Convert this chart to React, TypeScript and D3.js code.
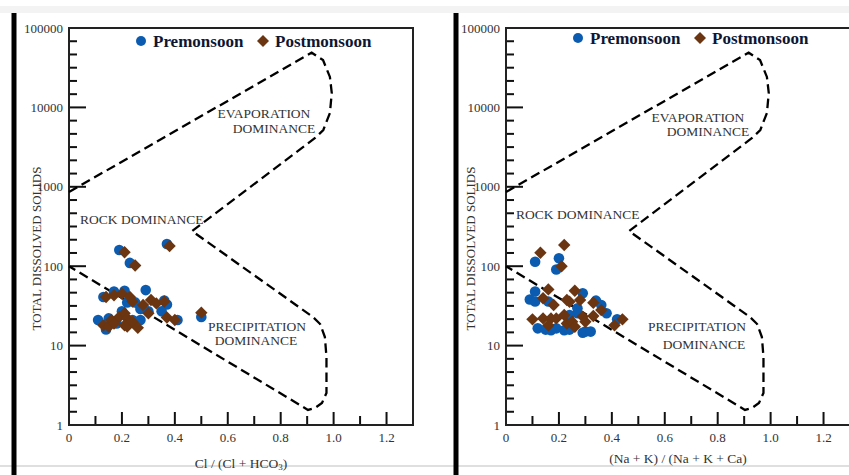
import React from "react";
import * as d3 from "d3";

// ---------- data ----------
// Left panel: Cl / (Cl + HCO3) vs TDS
const preX1 = [0.19, 0.37, 0.23, 0.29, 0.50, 0.13, 0.17, 0.21, 0.22, 0.36, 0.37, 0.30, 0.35, 0.41, 0.11, 0.14, 0.20, 0.24, 0.27, 0.27, 0.18, 0.15, 0.25];
const preY1 = [160, 190, 110, 50, 23, 41, 48, 49, 35, 37, 33, 27, 27, 21, 21, 16, 27, 21, 21, 29, 19, 22, 35];
const postX1 = [0.38, 0.21, 0.25, 0.50, 0.14, 0.17, 0.20, 0.23, 0.24, 0.28, 0.31, 0.33, 0.36, 0.30, 0.37, 0.40, 0.13, 0.15, 0.16, 0.19, 0.21, 0.22, 0.21, 0.22, 0.24, 0.26, 0.17];
const postY1 = [180, 150, 102, 26, 41, 43, 45, 41, 36, 32.5, 37.5, 34, 36, 25.5, 22.6, 21, 18, 17.4, 21, 23, 25.5, 22, 18, 17.4, 20, 16.8, 19];

// Right panel: (Na + K) / (Na + K + Ca) vs TDS
const preX2 = [0.11, 0.20, 0.19, 0.11, 0.09, 0.11, 0.16, 0.12, 0.15, 0.17, 0.19, 0.22, 0.24, 0.29, 0.30, 0.32, 0.29, 0.34, 0.36, 0.38, 0.42, 0.27, 0.27, 0.24];
const preY2 = [114, 126, 91, 48, 38, 36, 36, 16.5, 15.9, 15.6, 16.5, 15.6, 15.9, 14.5, 15, 15, 45.6, 36.8, 32.5, 25.5, 21.4, 29.5, 25.5, 24.3];
const postX2 = [0.22, 0.13, 0.21, 0.16, 0.14, 0.18, 0.26, 0.24, 0.28, 0.33, 0.36, 0.41, 0.44, 0.10, 0.14, 0.17, 0.16, 0.19, 0.22, 0.23, 0.25, 0.26, 0.29, 0.30, 0.33, 0.23];
const postY2 = [185, 148, 100, 51, 39.5, 32.5, 49, 35.7, 37.5, 34.7, 28, 18, 21.4, 21.4, 22, 22, 18, 22, 24.3, 19, 20, 17.3, 23.2, 20, 23.6, 37.5];

// Gibbs boundary (data coordinates: ratio, TDS)
const boundX = [0, 0.917, 0.96, 0.986, 0.993, 0.986, 0.961, 0.93, 0.465, 0.922, 0.949, 0.967, 0.973, 0.973, 0.956, 0.93, 0.903, 0];
const boundY = [859, 48900, 39500, 24200, 15200, 8490, 5190, 4120, 277, 22.9, 18.7, 12.8, 7.18, 2.53, 1.89, 1.64, 1.55, 100];

const xTickValues = [0, 0.2, 0.4, 0.6, 0.8, 1.0, 1.2];
const yTickValues = [1, 10, 100, 1000, 10000, 100000];
const seriesNames = ["Premonsoon", "Postmonsoon"];

const BLUE = "#0b5cb0";
const BROWN = "#6a3510";
const FONT = "'Liberation Serif', 'Times New Roman', serif";

const TOP = 28;
const BOTTOM = 425;
const PW = 344;

const diamond = (cx: number, cy: number, r: number) =>
  `M${cx},${cy - r}L${cx + r},${cy}L${cx},${cy + r}L${cx - r},${cy}Z`;

type PanelProps = {
  L: number;
  bar: number;
  yLabelX: number;
  legendY: number;
  preX: number[];
  preY: number[];
  postX: number[];
  postY: number[];
  title: React.ReactNode;
  titleY: number;
  labels: { t: string; x: number; y: number; anchor: string }[];
};

function Panel(p: PanelProps) {
  const x = d3.scaleLinear().domain([0, 1.3]).range([p.L, p.L + PW]);
  const y = d3.scaleLog().domain([1, 100000]).range([BOTTOM, TOP]);
  const line = d3
    .line<number>()
    .x((_, i) => x(boundX[i]))
    .y((_, i) => y(boundY[i]));

  const minorY: number[] = [];
  for (let k = 0; k < 5; k++) for (let j = 1; j < 6; j++) minorY.push(Math.pow(10, k + j / 6));
  const xTicks = d3.range(1, 13).map((i) => i / 10);

  return (
    <g>
      <rect x={p.bar - 2.5} y={13} width={5} height={462} fill="#000" />
      {/* y axis title */}
      <text
        transform={`translate(${p.yLabelX},${(TOP + BOTTOM) / 2 + 22}) rotate(-90)`}
        textAnchor="middle"
        dominantBaseline="central"
        fontFamily={FONT}
        fontSize={13}
        fill="#333"
      >
        TOTAL DISSOLVED SOLIDS
      </text>
      {/* ticks */}
      {yTickValues.map((v) => (
        <g key={"y" + v}>
          <line x1={p.L} x2={p.L + 17} y1={y(v)} y2={y(v)} stroke="#111" strokeWidth={2} />
          <text x={p.L - 6} y={y(v)} textAnchor="end" dominantBaseline="central" fontFamily={FONT} fontSize={13} fill="#333">
            {v}
          </text>
        </g>
      ))}
      {minorY.map((v, i) => (
        <line key={"my" + i} x1={p.L} x2={p.L + 8} y1={y(v)} y2={y(v)} stroke="#111" strokeWidth={2} />
      ))}
      {xTicks.map((v, i) => {
        const major = (i + 1) % 2 === 0;
        return (
          <line key={"x" + i} x1={x(v)} x2={x(v)} y1={BOTTOM} y2={BOTTOM - (major ? 13 : 9)} stroke="#111" strokeWidth={2} />
        );
      })}
      {xTickValues.map((v) => (
        <text key={"xl" + v} x={x(v)} y={BOTTOM + 12} textAnchor="middle" dominantBaseline="central" fontFamily={FONT} fontSize={13} fill="#333">
          {v === 0 ? "0" : v.toFixed(1)}
        </text>
      ))}
      {/* frame */}
      <rect x={p.L} y={TOP} width={PW} height={BOTTOM - TOP} fill="none" stroke="#222" strokeWidth={2} />
      {/* boundary */}
      <path d={line(boundX) || ""} fill="none" stroke="#000" strokeWidth={2.3} strokeDasharray="9.5,5" />
      {/* region labels */}
      {p.labels.map((l, i) => (
        <text key={"lab" + i} x={l.x} y={l.y} textAnchor={l.anchor as any} dominantBaseline="central" fontFamily={FONT} fontSize={13.5} fill="#333">
          {l.t}
        </text>
      ))}
      {/* points */}
      {p.preX.map((v, i) => (
        <circle key={"pre" + i} cx={x(v)} cy={y(p.preY[i])} r={5.3} fill={BLUE} />
      ))}
      {p.postX.map((v, i) => (
        <path key={"post" + i} d={diamond(x(v), y(p.postY[i]), 6.2)} fill={BROWN} />
      ))}
      {/* legend */}
      <circle cx={p.L + 72} cy={p.legendY} r={5} fill={BLUE} />
      <text x={p.L + 84} y={p.legendY} dominantBaseline="central" fontFamily={FONT} fontWeight="bold" fontSize={17} fill="#0d1633">
        {seriesNames[0]}
      </text>
      <path d={diamond(p.L + 194, p.legendY, 6)} fill={BROWN} />
      <text x={p.L + 206} y={p.legendY} dominantBaseline="central" fontFamily={FONT} fontWeight="bold" fontSize={17} fill="#0d1633">
        {seriesNames[1]}
      </text>
      {/* x title */}
      <g transform={`translate(${p.L + PW / 2},${p.titleY})`}>{p.title}</g>
    </g>
  );
}

export default function App() {
  return (
    <svg width={849} height={475} style={{ position: "absolute", left: 0, top: 0, background: "#fff" }}>
      <rect x={0} y={0} width={849} height={475} fill="#fff" />
      <rect x={0} y={6} width={849} height={7} fill="#f3f3f3" />
      <line x1={0} x2={849} y1={466} y2={466} stroke="#d4d4d4" strokeWidth={1.5} />
      <Panel
        L={69}
        bar={14}
        yLabelX={36}
        legendY={41}
        preX={preX1}
        preY={preY1}
        postX={postX1}
        postY={postY1}
        titleY={463}
        title={
          <text textAnchor="middle" dominantBaseline="central" fontFamily={FONT} fontSize={13.5} fill="#333">
            Cl / (Cl + HCO
            <tspan fontSize={9} dy={4}>3</tspan>
            <tspan dy={-4}>)</tspan>
          </text>
        }
        labels={[
          { t: "EVAPORATION", x: 264, y: 113, anchor: "middle" },
          { t: "DOMINANCE", x: 274, y: 128, anchor: "middle" },
          { t: "ROCK DOMINANCE", x: 80, y: 219, anchor: "start" },
          { t: "PRECIPITATION", x: 257, y: 326, anchor: "middle" },
          { t: "DOMINANCE", x: 256, y: 340, anchor: "middle" },
        ]}
      />
      <Panel
        L={506}
        bar={456}
        yLabelX={470}
        legendY={38}
        preX={preX2}
        preY={preY2}
        postX={postX2}
        postY={postY2}
        titleY={458}
        title={
          <text textAnchor="middle" dominantBaseline="central" fontFamily={FONT} fontSize={13.5} fill="#333">
            (Na + K) / (Na + K + Ca)
          </text>
        }
        labels={[
          { t: "EVAPORATION", x: 698, y: 117, anchor: "middle" },
          { t: "DOMINANCE", x: 708, y: 131, anchor: "middle" },
          { t: "ROCK DOMINANCE", x: 516, y: 214, anchor: "start" },
          { t: "PRECIPITATION", x: 697, y: 326, anchor: "middle" },
          { t: "DOMINANCE", x: 704, y: 344, anchor: "middle" },
        ]}
      />
    </svg>
  );
}
